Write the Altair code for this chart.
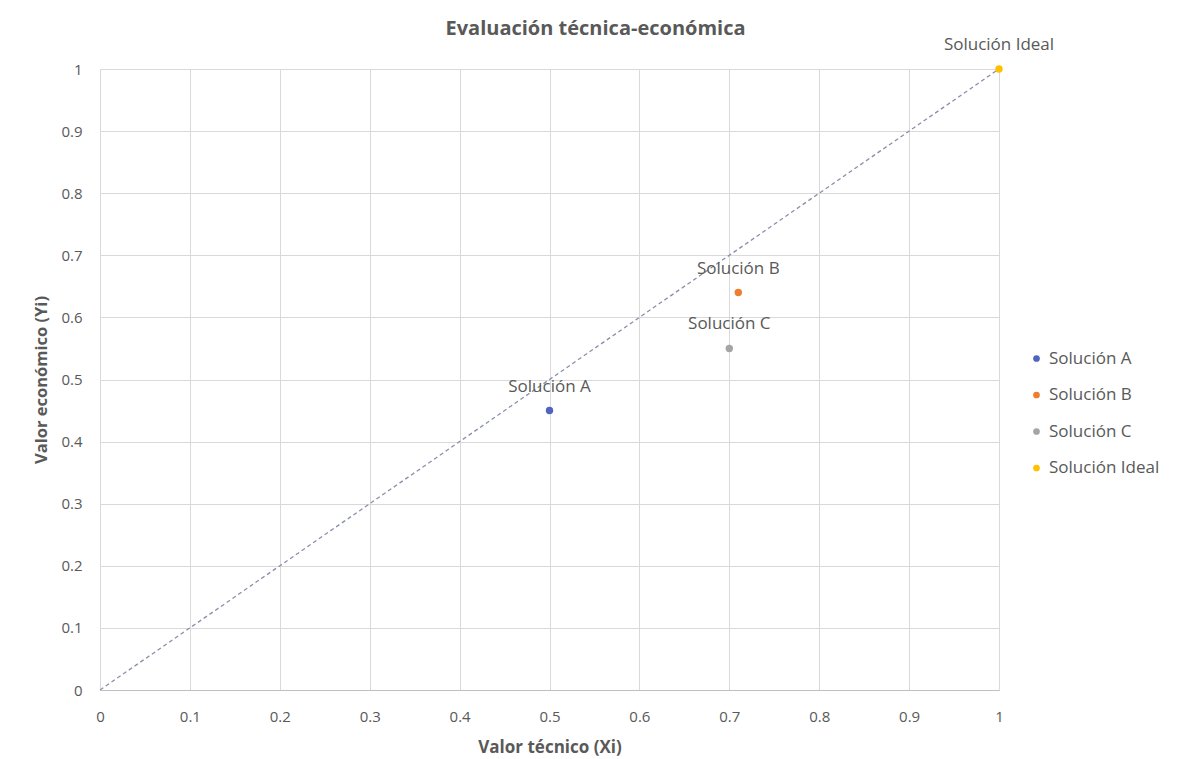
import altair as alt
import pandas as pd

# Solutions evaluated: technical value (Xi) vs economic value (Yi)
names = ["Solución A", "Solución B", "Solución C", "Solución Ideal"]
x_tecnico = [0.50, 0.71, 0.70, 1.00]
y_economico = [0.45, 0.64, 0.55, 1.00]
colors = ["#4F63C0", "#ED7D31", "#A5A5A5", "#FFC000"]

# Reference diagonal from the origin to the ideal solution
diag_x = [0.0, 1.0]
diag_y = [0.0, 1.0]

ticks = [round(i / 10, 1) for i in range(11)]

df = pd.DataFrame({"nombre": names, "x": x_tecnico, "y": y_economico})
diag = pd.DataFrame({"x": diag_x, "y": diag_y})

FONT = "Open Sans"
GREY = "#595959"

x_scale = alt.Scale(domain=[0, 1], nice=False)
y_scale = alt.Scale(domain=[0, 1], nice=False)

x_axis = alt.Axis(
    title="Valor técnico (Xi)", values=ticks, format="~g", ticks=False,
    labelPadding=19, titlePadding=15, grid=True, gridColor="#D9D9D9",
    domainColor="#BFBFBF", labelColor=GREY, titleColor=GREY,
    labelFontSize=15, titleFontSize=17, titleFontWeight="bold",
    labelFont=FONT, titleFont=FONT, labelFlush=False,
)
y_axis = alt.Axis(
    title="Valor económico (Yi)", values=ticks, format="~g", ticks=False,
    labelPadding=18, titlePadding=11, grid=True, gridColor="#D9D9D9",
    domainColor="#D9D9D9", labelColor=GREY, titleColor=GREY,
    labelFontSize=15, titleFontSize=16.5, titleFontWeight="bold",
    labelFont=FONT, titleFont=FONT, labelFlush=False,
)

line = alt.Chart(diag).mark_line(
    color="#8A8FA8", strokeWidth=1.3, strokeDash=[4, 3]
).encode(
    x=alt.X("x:Q", scale=x_scale, axis=x_axis),
    y=alt.Y("y:Q", scale=y_scale, axis=y_axis),
)

points = alt.Chart(df).mark_circle(size=55, opacity=1).encode(
    x=alt.X("x:Q", scale=x_scale),
    y=alt.Y("y:Q", scale=y_scale),
    color=alt.Color(
        "nombre:N",
        scale=alt.Scale(domain=names, range=colors),
        legend=alt.Legend(
            title=None, orient="none", legendX=928, legendY=281,
            symbolType="circle", symbolSize=45, labelFontSize=17,
            labelColor=GREY, labelFont=FONT, rowPadding=18.5, labelOffset=4,
        ),
    ),
)

labels = alt.Chart(df).mark_text(
    dy=-24, fontSize=17, color=GREY, font=FONT, baseline="middle"
).encode(
    x=alt.X("x:Q", scale=x_scale),
    y=alt.Y("y:Q", scale=y_scale),
    text="nombre:N",
)

chart = (
    alt.layer(line, points, labels)
    .properties(
        width=899,
        height=621,
        title=alt.TitleParams(
            "Evaluación técnica-económica", fontSize=20, fontWeight="bold",
            color=GREY, font=FONT, anchor="middle", dx=46, offset=-3,
        ),
        autosize=alt.AutoSizeParams(type="none"),
        padding={"left": 100, "top": 69, "right": 178, "bottom": 69},
        background="white",
    )
    .configure_view(stroke=None)
)

chart.save("out.html", embed_options={"renderer": "svg", "actions": False})
